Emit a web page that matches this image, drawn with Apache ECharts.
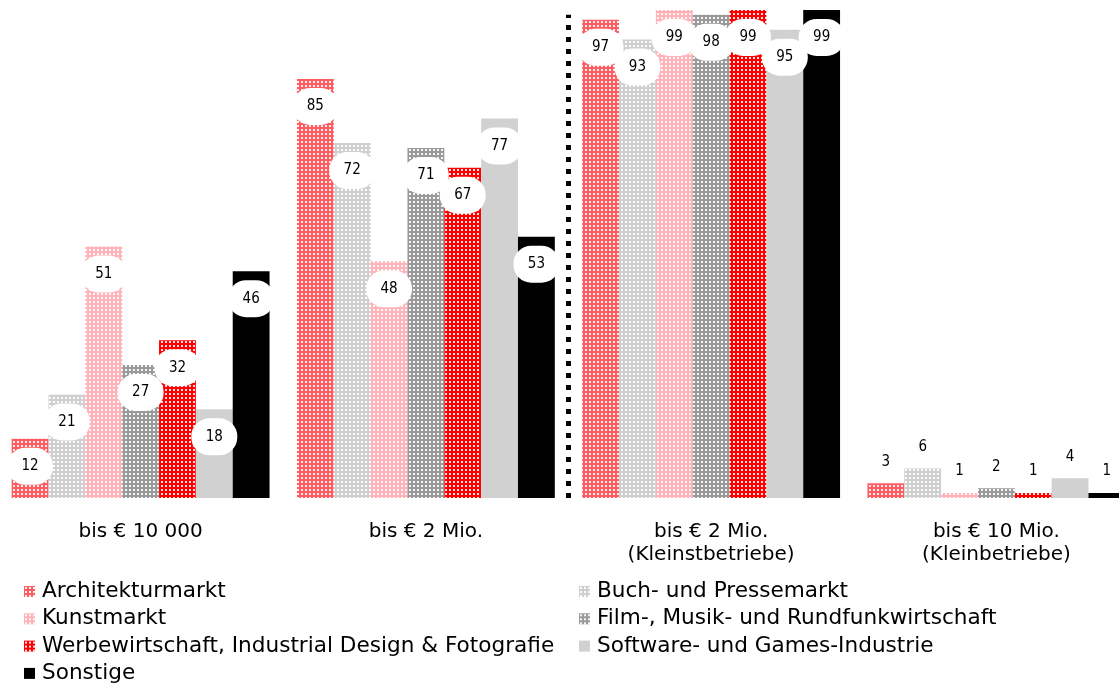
<!DOCTYPE html>
<html>
<head>
<meta charset="utf-8">
<script src="https://cdn.jsdelivr.net/npm/echarts@6/dist/echarts.min.js"></script>
<style>html,body{margin:0;padding:0;background:#fff;}#c{width:1119px;height:685px;}</style>
</head>
<body>
<div id="c"></div>
<script>
const categories = ['bis € 10 000', 'bis € 2 Mio.', 'bis € 2 Mio.\n(Kleinstbetriebe)', 'bis € 10 Mio.\n(Kleinbetriebe)'];
const seriesNames = ['Architekturmarkt', 'Buch- und Pressemarkt', 'Kunstmarkt', 'Film-, Musik- und Rundfunkwirtschaft', 'Werbewirtschaft, Industrial Design & Fotografie', 'Software- und Games-Industrie', 'Sonstige'];
const architektur = [12, 85, 97, 3];
const buch = [21, 72, 93, 6];
const kunst = [51, 48, 99, 1];
const film = [27, 71, 98, 2];
const werbe = [32, 67, 99, 1];
const software = [18, 77, 95, 4];
const sonstige = [46, 53, 99, 1];
const seriesValues = [architektur, buch, kunst, film, werbe, software, sonstige];
// dotted divider between the groups: category-boundary position and its top (in value units)
const dividerX = 2;
const dividerTop = 98;

function pattern(color) {
  const c = document.createElement('canvas');
  c.width = 4; c.height = 4;
  const g = c.getContext('2d');
  g.fillStyle = color; g.fillRect(0, 0, 4, 4);
  g.fillStyle = 'rgba(255,255,255,0.9)'; g.fillRect(1, 1, 2, 2);
  return { image: c, repeat: 'repeat' };
}
const colors = [pattern('#ff5c62'), pattern('#cfcfcf'), pattern('#ffb3b8'), pattern('#9a9a9a'), pattern('#ff0000'), '#d0d1d0', '#000000'];

const FONT = 'DejaVu Sans';
const NUMFONT = 'DejaVu Sans Condensed';
const chart = echarts.init(document.getElementById('c'));
const series = seriesNames.map((name, si) => ({
  name, type: 'bar',
  barGap: '0%', barCategoryGap: '9.6%',
  itemStyle: { color: colors[si] },
  data: seriesValues[si].map(v => v < 10 ? { value: v, label: { position: 'top', distance: 3, backgroundColor: 'transparent' } } : v),
  label: {
    show: true, position: 'insideTop', distance: 9,
    fontFamily: NUMFONT, fontSize: 15, color: '#000',
    backgroundColor: '#fff', width: 46, height: 37, lineHeight: 37, align: 'center',
    borderRadius: 18
  }
}));
series.push({
  type: 'line', xAxisIndex: 1, data: [], silent: true,
  markLine: {
    silent: true, symbol: 'none', label: { show: false },
    lineStyle: { color: '#000', width: 5, type: [5, 7] },
    data: [[{ coord: [dividerX, 0] }, { coord: [dividerX, dividerTop] }]]
  }
});
const legendText = { fontFamily: FONT, fontSize: 21.6, color: '#000', lineHeight: 23, padding: [0, 0, 0, 2] };
chart.setOption({
  animation: false,
  textStyle: { fontFamily: FONT },
  grid: { left: -2, width: 1141, top: 5, bottom: 187, containLabel: false, outerBoundsMode: 'none' },
  xAxis: [{
    type: 'category', data: categories,
    axisLine: { show: false }, axisTick: { show: false },
    axisLabel: { fontFamily: FONT, fontSize: 20, color: '#000', lineHeight: 23, margin: 22 },
    splitLine: { show: false }
  }, {
    type: 'value', min: 0, max: 4, show: false
  }],
  yAxis: { type: 'value', min: 0, max: 100, show: false },
  legend: [
    { data: [seriesNames[0], seriesNames[2], seriesNames[4], seriesNames[6]], orient: 'vertical', left: 24, top: 580, padding: 0,
      icon: 'rect', itemWidth: 11, itemHeight: 11, itemGap: 4.3, textStyle: legendText },
    { data: [seriesNames[1], seriesNames[3], seriesNames[5]], orient: 'vertical', left: 579, top: 580, padding: 0,
      icon: 'rect', itemWidth: 11, itemHeight: 11, itemGap: 4.3, textStyle: legendText }
  ],
  series
});
</script>
</body>
</html>
